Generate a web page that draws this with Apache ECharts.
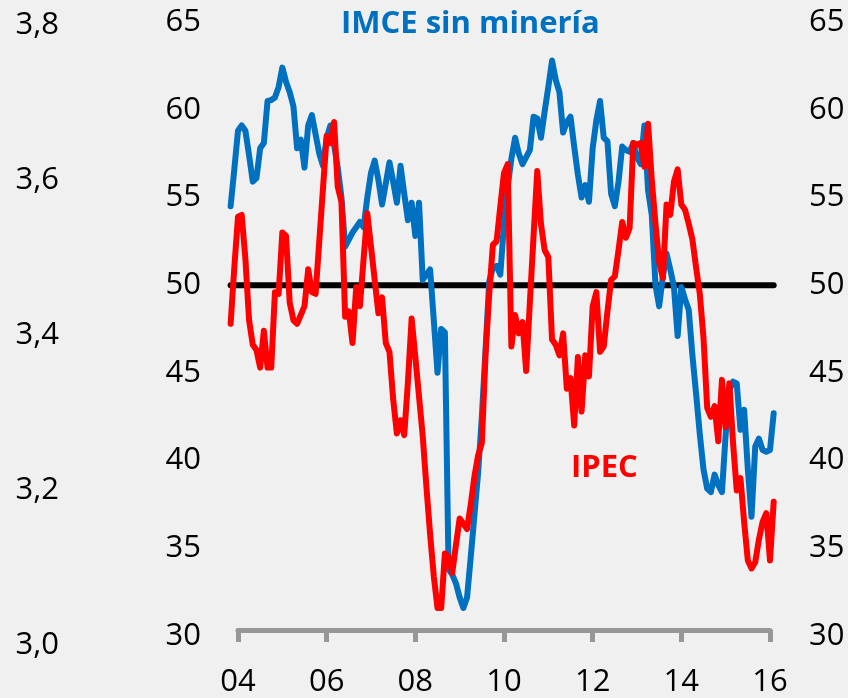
<!DOCTYPE html>
<html>
<head>
<meta charset="utf-8">
<script src="https://cdn.jsdelivr.net/npm/echarts@6/dist/echarts.min.js"></script>
<style>
  html, body { margin: 0; padding: 0; background: #f0f0f0; }
  #chart { width: 848px; height: 698px; }
</style>
</head>
<body>
<div id="chart"></div>
<script>
// meses desde ene-2004 (el primer dato es nov-2003)
var firstMonth = -2

// IMCE sin mineria, mensual nov-03 .. feb-16
var imce = [
  54.5, 56.6, 58.8, 59.1, 58.8, 57.4, 55.9, 56.1, 57.8, 58.1,
  60.5, 60.55, 60.7, 61.3, 62.4, 61.6, 61.0, 60.2, 57.8, 58.3,
  56.7, 59.1, 59.7, 58.6, 57.5, 56.8, 58.4, 59.1, 58.0, 56.7,
  55.0, 52.2, 52.6, 53.0, 53.3, 53.6, 53.3, 55.0, 56.4, 57.1,
  56.0, 54.6, 55.8, 57.0, 55.9, 54.7, 56.8, 55.2, 53.7, 54.7,
  52.8, 54.7, 50.3, 50.6, 50.9, 48.0, 45.0, 47.5, 47.3, 33.8,
  33.5, 33.0, 32.2, 31.6, 32.2, 34.5, 36.9, 39.3, 42.5, 46.3,
  50.2, 51.0, 51.1, 50.6, 53.5, 55.6, 57.2, 58.4, 57.5, 56.9,
  57.3, 57.7, 59.6, 59.5, 58.4, 59.9, 61.3, 62.8, 61.7, 61.0,
  58.7, 59.3, 59.6, 57.9, 56.3, 55.0, 55.7, 54.75, 57.8, 59.4,
  60.5, 58.4, 58.2, 55.2, 54.5, 55.9, 57.9, 57.7, 57.6, 58.1,
  57.3, 56.9, 59.1, 55.4, 54.0, 50.0, 48.8, 50.5, 51.8, 50.9,
  49.9, 47.1, 49.9, 49.2, 48.6, 46.0, 43.8, 41.5, 39.5, 38.4,
  38.2, 39.2, 38.6, 38.2, 41.5, 44.0, 44.5, 44.4, 41.75, 42.9,
  39.5, 36.8, 40.8, 41.25, 40.6, 40.5, 40.6, 42.7
]

// IPEC, mismo periodo
var ipec = [
  47.8, 51.0, 53.9, 54.0, 51.5, 48.0, 46.6, 46.3, 45.3, 47.4,
  45.3, 45.3, 49.6, 49.5, 53.0, 52.8, 49.0, 48.0, 47.8, 48.3,
  48.8, 50.9, 49.6, 49.5, 52.5, 55.5, 58.5, 58.1, 59.3, 55.6,
  54.75, 48.2, 48.5, 46.7, 49.9, 48.8, 51.5, 54.1, 52.2, 50.3,
  48.4, 49.3, 46.7, 46.2, 43.5, 41.55, 42.3, 41.45, 44.5, 48.1,
  45.9, 43.65, 41.4, 38.5, 35.8, 33.4, 31.6, 31.6, 34.7, 34.5,
  33.6, 35.2, 36.7, 36.4, 36.1, 37.5, 39.1, 40.3, 41.0, 46.0,
  49.5, 52.3, 52.5, 54.5, 56.4, 56.9, 46.5, 48.3, 47.25, 47.9,
  45.1, 49.0, 52.8, 56.5, 53.5, 52.0, 51.6, 46.9, 46.6, 46.0,
  47.25, 44.1, 44.7, 42.0, 45.9, 42.8, 46.0, 44.8, 48.8, 49.6,
  46.2, 46.5, 48.5, 50.3, 50.5, 52.0, 53.6, 52.7, 53.25, 58.1,
  58.0, 58.1, 56.75, 59.2, 56.0, 53.5, 51.3, 50.4, 54.6, 54.0,
  55.9, 56.6, 54.6, 54.3, 53.5, 52.6, 51.0, 49.5, 47.0, 43.0,
  42.5, 43.1, 41.1, 44.6, 41.9, 44.4, 41.0, 38.3, 39.0, 36.5,
  34.3, 33.85, 34.2, 35.5, 36.5, 37.0, 34.3, 37.65
]

var neutralLevel = 50
var yTicks = [30, 65, 5]          // min, max, paso
var outerTicks = [3.0, 3.8, 0.2]  // eje exterior izquierdo
var xTicks = [0, 144, 24]         // ene-04 .. ene-16, cada 2 años

function toPairs (arr) {
  return arr.map(function (v, i) { return [firstMonth + i, v] })
}

var lastMonth = firstMonth + imce.length - 1
var neutralLine = [[firstMonth, neutralLevel], [lastMonth, neutralLevel]]

// el area de datos va un poco mas alla de los ticks 04 y 16
var tickLeft = 238, tickRight = 770
var pxMonth = (tickRight - tickLeft) / (xTicks[1] - xTicks[0])
var dataLeft = tickLeft + (firstMonth - xTicks[0]) * pxMonth
var dataRight = tickRight + (lastMonth - xTicks[1]) * pxMonth

var font = 'Open Sans'
var chart = echarts.init(document.getElementById('chart'))

var hiddenAxis = {
  splitLine: { show: false },
  axisLine: { show: false },
  axisTick: { show: false },
  axisLabel: { show: false }
}

var opt = {
  backgroundColor: '#f0f0f0',
  animation: false,
  textStyle: { fontFamily: font },
  title: [{
    text: 'IMCE sin minería',
    left: 336,
    top: 4,
    textStyle: { color: '#0070c0', fontSize: 31, fontWeight: 'bold', fontFamily: font }
  }, {
    text: 'IPEC',
    left: 566,
    top: 448,
    textStyle: { color: '#ff0000', fontSize: 31, fontWeight: 'bold', fontFamily: font }
  }],
  grid: [
    // datos
    { left: dataLeft, right: 848 - dataRight, top: 22, bottom: 62 },
    // eje 3,0 - 3,8
    { left: 70, width: 1, top: 25, bottom: 53 },
    // eje de fechas (solo ticks y etiquetas)
    { left: tickLeft, right: 848 - tickRight, top: 22, bottom: 62 }
  ],
  xAxis: [{
    type: 'value',
    gridIndex: 0,
    min: firstMonth,
    max: lastMonth,
    show: false
  }, {
    type: 'value',
    gridIndex: 1,
    show: false
  }, {
    type: 'value',
    gridIndex: 2,
    min: xTicks[0],
    max: xTicks[1],
    interval: xTicks[2],
    splitLine: { show: false },
    axisLine: { show: true, lineStyle: { color: '#979797', width: 5 } },
    axisTick: { show: true, length: 12, lineStyle: { color: '#979797', width: 5 } },
    axisLabel: {
      margin: 37,
      fontSize: 31,
      color: '#000',
      formatter: function (v) {
        var yy = 4 + Math.round(v / 12)
        return (yy < 10 ? '0' : '') + yy
      }
    }
  }],
  yAxis: [{
    type: 'value',
    gridIndex: 0,
    min: yTicks[0],
    max: yTicks[1],
    interval: yTicks[2],
    position: 'left',
    splitLine: { show: false },
    axisLine: { show: false },
    axisTick: { show: false },
    axisLabel: { margin: dataLeft - 201, fontSize: 31, color: '#000' }
  }, {
    type: 'value',
    gridIndex: 0,
    min: yTicks[0],
    max: yTicks[1],
    interval: yTicks[2],
    position: 'right',
    splitLine: { show: false },
    axisLine: { show: false },
    axisTick: { show: false },
    axisLabel: { margin: 809 - dataRight, fontSize: 31, color: '#000' }
  }, {
    type: 'value',
    gridIndex: 1,
    min: outerTicks[0],
    max: outerTicks[1],
    interval: outerTicks[2],
    position: 'left',
    splitLine: { show: false },
    axisLine: { show: false },
    axisTick: { show: false },
    axisLabel: {
      margin: 11,
      fontSize: 31,
      color: '#000',
      formatter: function (v) { return v.toFixed(1).replace('.', ',') }
    }
  }, Object.assign({ type: 'value', gridIndex: 2, min: 0, max: 1 }, hiddenAxis)],
  series: [{
    name: 'neutral',
    type: 'line',
    data: neutralLine,
    symbol: 'none',
    z: 1,
    lineStyle: { color: '#000', width: 6, cap: 'round' }
  }, {
    name: 'IMCE sin minería',
    type: 'line',
    data: toPairs(imce),
    symbol: 'none',
    z: 2,
    lineStyle: { color: '#0070c0', width: 6, join: 'round', cap: 'round' }
  }, {
    name: 'IPEC',
    type: 'line',
    data: toPairs(ipec),
    symbol: 'none',
    z: 3,
    lineStyle: { color: '#ff0000', width: 6, join: 'round', cap: 'round' }
  }]
}

chart.setOption(opt)
</script>
</body>
</html>
